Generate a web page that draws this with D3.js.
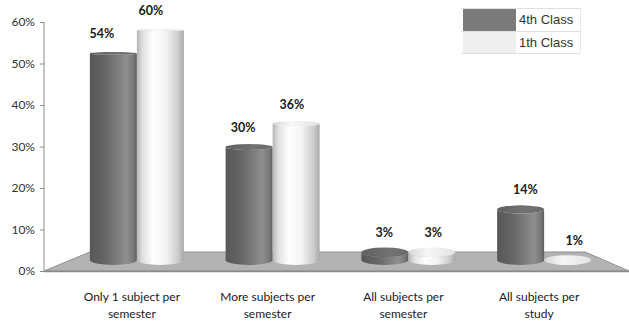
<!DOCTYPE html>
<html>
<head>
<meta charset="utf-8">
<script src="https://cdn.jsdelivr.net/npm/d3@7"></script>
<style>
  html, body { margin: 0; padding: 0; background: #fff; }
  svg { display: block; }
</style>
</head>
<body>
<svg id="chart" width="629" height="321"></svg>
<script>
// Study-plan preference by class year
const categories = [
  ["Only 1 subject per", "semester"],
  ["More subjects per", "semester"],
  ["All subjects per", "semester"],
  ["All subjects per", "study"]
];
const seriesNames = ["4th Class", "1th Class"];
const fourthClass = [54, 30, 3, 14];
const firstClass = [60, 36, 3, 1];
const yTicks = [0, 10, 20, 30, 40, 50, 60];

const svg = d3.select("#chart");
const defs = svg.append("defs");

// Horizontal shading that makes a rectangle look like a cylinder
function cylGradient(id, stops) {
  const g = defs.append("linearGradient").attr("id", id)
    .attr("x1", "0%").attr("x2", "100%").attr("y1", "0%").attr("y2", "0%");
  stops.forEach(([o, c]) => g.append("stop").attr("offset", o).attr("stop-color", c));
}
cylGradient("darkBody", [[0, "#575757"], [0.35, "#676767"], [0.78, "#8e8e8e"], [0.92, "#7a7a7a"], [1, "#5e5e5e"]]);
cylGradient("lightBody", [[0, "#b5b5b5"], [0.12, "#e0e0e0"], [0.35, "#ffffff"], [0.62, "#f3f3f3"], [0.88, "#cbcbcb"], [1, "#a9a9a9"]]);
cylGradient("darkTop", [[0, "#606060"], [0.6, "#727272"], [1, "#6a6a6a"]]);
cylGradient("lightTop", [[0, "#d6d6d6"], [0.4, "#f7f7f7"], [1, "#e2e2e2"]]);

const series = [
  { name: seriesNames[0], values: fourthClass, body: "url(#darkBody)", top: "url(#darkTop)", swatch: "#7a7a7a" },
  { name: seriesNames[1], values: firstClass, body: "url(#lightBody)", top: "url(#lightTop)", swatch: "#efefef" }
];

// Front value axis
const yAxisScale = d3.scaleLinear().domain([0, 60]).range([271, 22]);
// Bars sit further back on the floor, so their heights use a deeper scale
const yBar = d3.scaleLinear().domain([0, 60]).range([264, 30]);
const x0 = d3.scaleBand().domain(d3.range(categories.length)).range([69, 612]);
const barW = 47;
const rx = barW / 2;
const barBottom = 260, ryBottom = 5;
const ryAt = y => 1 + (ryBottom - 1) * (y - yBar(60)) / (yBar(0) - yBar(60));

// Floor
svg.append("path")
  .attr("d", "M44,271 L90,252 L585,252 L629,271 Z")
  .attr("fill", "#b3b3b3")
  .attr("stroke", "#8f8f8f")
  .attr("stroke-width", 1);
svg.append("line").attr("x1", 44).attr("x2", 629).attr("y1", 271.5).attr("y2", 271.5)
  .attr("stroke", "#8a8a8a").attr("stroke-width", 1.5);

// Axis
const axis = d3.axisLeft(yAxisScale)
  .tickValues(yTicks)
  .tickSize(4)
  .tickPadding(5)
  .tickFormat(d => d + "%");
const ax = svg.append("g").attr("transform", "translate(44,0)").call(axis);
ax.select(".domain").attr("stroke", "#8c8c8c").attr("d", "M0,22V271");
ax.selectAll(".tick line").attr("stroke", "#8c8c8c");
ax.selectAll(".tick text")
  .attr("fill", "#333")
  .style("font-family", "Lato, 'Open Sans', sans-serif")
  .style("font-size", "12px");

// Cylinders
const bars = svg.append("g");
categories.forEach((cat, i) => {
  series.forEach((s, j) => {
    const v = s.values[i];
    const cx = x0(i) + x0.bandwidth() / 2 + (j === 0 ? -rx : rx);
    const yt = yBar(v);
    const ryT = ryAt(yt);
    const g = bars.append("g");
    g.append("path")
      .attr("d", `M${cx - rx},${yt} L${cx - rx},${barBottom} A${rx},${ryBottom} 0 0 0 ${cx + rx},${barBottom} L${cx + rx},${yt} A${rx},${ryT} 0 0 1 ${cx - rx},${yt} Z`)
      .attr("fill", s.body);
    g.append("ellipse")
      .attr("cx", cx).attr("cy", yt).attr("rx", rx).attr("ry", ryT)
      .attr("fill", s.top);
  });
});

// Value labels, nudged by perspective toward the viewpoint
const labels = svg.append("g")
  .style("font-family", "Lato, 'Open Sans', sans-serif")
  .style("font-size", "12.5px")
  .style("font-weight", "bold")
  .attr("fill", "#1a1a1a")
  .attr("text-anchor", "middle");
categories.forEach((cat, i) => {
  series.forEach((s, j) => {
    const v = s.values[i];
    const cx = x0(i) + x0.bandwidth() / 2 + (j === 0 ? -rx : rx);
    const lx = cx + (cx - 400) * 0.04;
    labels.append("text")
      .attr("x", lx)
      .attr("y", yBar(v) - 15)
      .text(v + "%");
  });
});

// Category labels
const cats = svg.append("g")
  .style("font-family", "Lato, 'Open Sans', sans-serif")
  .style("font-size", "12px")
  .attr("fill", "#1a1a2a")
  .attr("text-anchor", "middle");
categories.forEach((lines, i) => {
  const cx = x0(i) + x0.bandwidth() / 2 - 5;
  lines.forEach((t, k) => {
    cats.append("text").attr("x", cx).attr("y", 301 + k * 17).text(t);
  });
});

// Legend
const leg = svg.append("g");
const legX = 463, legY = 8, swW = 53, rowH = [23, 22];
let yy = legY;
series.forEach((s, j) => {
  leg.append("rect").attr("x", legX).attr("y", yy).attr("width", swW).attr("height", rowH[j])
    .attr("fill", s.swatch);
  leg.append("text")
    .attr("x", legX + swW + 3).attr("y", yy + rowH[j] / 2 + 4.5)
    .style("font-family", "'Liberation Sans', Arial, sans-serif")
    .style("font-size", "13px")
    .attr("fill", "#333")
    .text(s.name);
  yy += rowH[j];
});
[legY, legY + rowH[0], legY + rowH[0] + rowH[1]].forEach(y => {
  leg.append("line").attr("x1", legX - 2).attr("x2", 580).attr("y1", y + 0.5).attr("y2", y + 0.5)
    .attr("stroke", "#e0e0e0");
});
leg.append("line").attr("x1", 580.5).attr("x2", 580.5).attr("y1", legY).attr("y2", yy)
  .attr("stroke", "#e8e8e8");
</script>
</body>
</html>
